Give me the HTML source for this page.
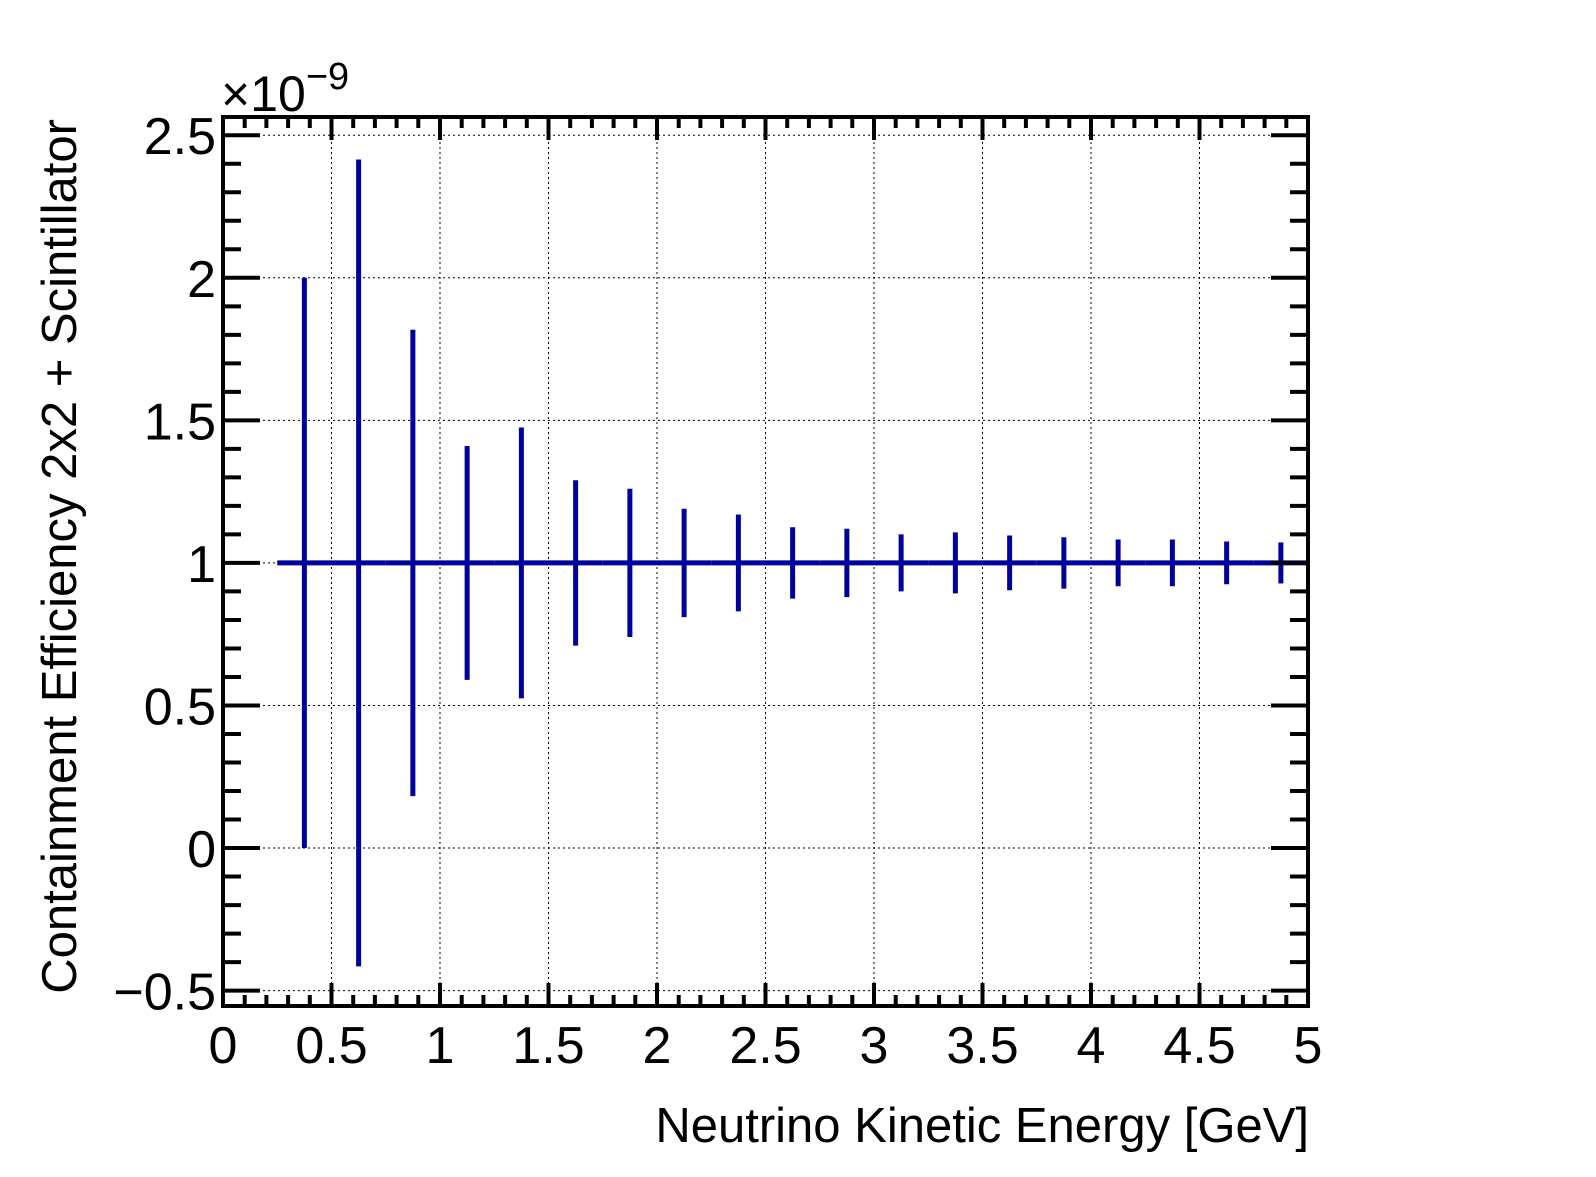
<!DOCTYPE html>
<html><head><meta charset="utf-8"><style>
body{margin:0;background:#fff;width:1596px;height:1172px;overflow:hidden}
svg text{font-family:"Liberation Sans",sans-serif;fill:#000}
</style></head><body>
<svg id="chart" width="1596" height="1172" xmlns="http://www.w3.org/2000/svg">
<g id="grid"></g>
<g id="series"></g>
<g id="axes"></g>
<text x="221" y="111" font-size="50">×10<tspan dy="-22" font-size="38">−9</tspan></text>
<text x="1309" y="1142" font-size="49" text-anchor="end">Neutrino Kinetic Energy [GeV]</text>
<text transform="translate(76,119) rotate(-90)" font-size="49" text-anchor="end">Containment Efficiency 2x2 + Scintillator</text>
</svg>
<script>
const binCenters=[0.375,0.625,0.875,1.125,1.375,1.625,1.875,2.125,2.375,2.625,2.875,3.125,3.375,3.625,3.875,4.125,4.375,4.625,4.875];
const values=[1,1,1,1,1,1,1,1,1,1,1,1,1,1,1,1,1,1,1];
const errors=[1.0,1.415,0.818,0.41,0.475,0.29,0.26,0.19,0.17,0.125,0.12,0.10,0.107,0.096,0.09,0.082,0.082,0.075,0.072];
const binWidth=0.25;
const xTicks=[0,0.5,1,1.5,2,2.5,3,3.5,4,4.5,5];
const xTickLabels=["0","0.5","1","1.5","2","2.5","3","3.5","4","4.5","5"];
const yTicks=[-0.5,0,0.5,1,1.5,2,2.5];
const yTickLabels=["−0.5","0","0.5","1","1.5","2","2.5"];
const L=223,R=1308,T=117,B=1006,xmin=0,xmax=5,ymin=-0.554,ymax=2.564;
const X=v=>L+(v-xmin)/(xmax-xmin)*(R-L);
const Y=v=>B-(v-ymin)/(ymax-ymin)*(B-T);
const NS="http://www.w3.org/2000/svg";
function mk(parent,tag,attrs,txt){const e=document.createElementNS(NS,tag);for(const k in attrs)e.setAttribute(k,attrs[k]);if(txt!==undefined)e.textContent=txt;parent.appendChild(e);return e;}
const grid=document.getElementById('grid'),series=document.getElementById('series'),axes=document.getElementById('axes');
xTicks.forEach(v=>{if(v>xmin&&v<xmax){const g=mk(grid,'line',{x1:X(v),x2:X(v),y1:T,y2:B,stroke:'#000','stroke-width':1,'stroke-dasharray':'2,3'});

}});
yTicks.forEach(v=>{const g=mk(grid,'line',{x1:L,x2:R,y1:Y(v),y2:Y(v),stroke:'#000','stroke-width':1,'stroke-dasharray':'2,3'});

});
binCenters.forEach((c,i)=>{const h=mk(series,'line',{x1:X(c-binWidth/2),x2:Math.min(X(c+binWidth/2),R),y1:Y(values[i]),y2:Y(values[i]),stroke:'#00009c','stroke-width':5});


const e=mk(series,'line',{x1:X(c),x2:X(c),y1:Y(values[i]-errors[i]),y2:Y(values[i]+errors[i]),stroke:'#00009c','stroke-width':5});

});
const f=mk(axes,'rect',{x:L,y:T,width:R-L,height:B-T,fill:'none',stroke:'#000','stroke-width':4});


for(let k=0;k<=50;k++){const v=k/10;const major=k%5===0;const len=major?23:11;
mk(axes,'line',{x1:X(v),x2:X(v),y1:B,y2:B-len,stroke:'#000','stroke-width':4});
mk(axes,'line',{x1:X(v),x2:X(v),y1:T,y2:T+len,stroke:'#000','stroke-width':4});}
for(let k=-5;k<=25;k++){const v=k/10;const major=k%5===0;const len=major?37:18;
mk(axes,'line',{x1:L,x2:L+len,y1:Y(v),y2:Y(v),stroke:'#000','stroke-width':4});
mk(axes,'line',{x1:R,x2:R-len,y1:Y(v),y2:Y(v),stroke:'#000','stroke-width':4});}
xTicks.forEach((v,i)=>{const t=mk(axes,'text',{x:X(v),y:1063,'font-size':52,'text-anchor':'middle'},xTickLabels[i]);

});
yTicks.forEach((v,i)=>{const t=mk(axes,'text',{x:216,y:Y(v)+19,'font-size':52,'text-anchor':'end'},yTickLabels[i]);

});
</script>
</body></html>
